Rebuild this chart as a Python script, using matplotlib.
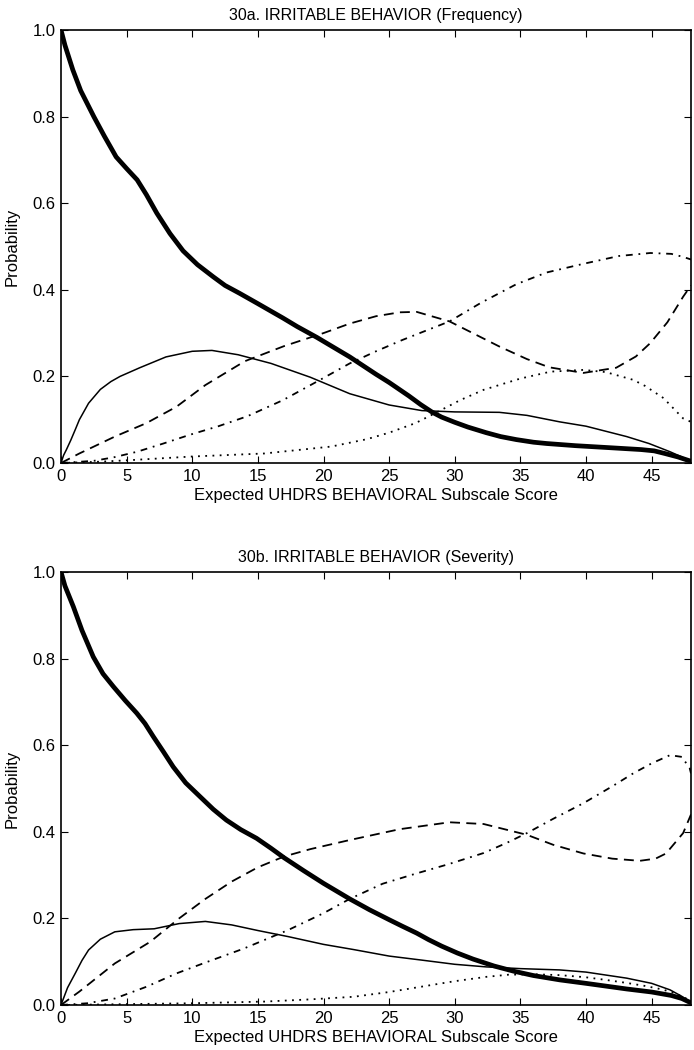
import matplotlib
matplotlib.use("Agg")
import matplotlib.pyplot as plt

plt.rcParams['font.family'] = ['Liberation Sans', 'DejaVu Sans']

# ---------------- 30a. Frequency ----------------
freq_thick_x = [0, 0.3, 0.9, 1.5, 2.5, 3.3, 4.2, 5.0, 5.8, 6.5, 7.3, 8.3, 9.3, 10.4, 11.6, 12.5,
                13.6, 15, 16.9, 18, 19.5, 20.5, 22, 23, 24, 25, 26.5, 27.4, 28.3, 29, 30, 31,
                32.4, 33.5, 34.7, 36, 37, 39.2, 42, 44.2, 45.2, 46, 47, 48]
freq_thick_y = [1.0, 0.965, 0.908, 0.86, 0.80, 0.755, 0.707, 0.68, 0.654, 0.62, 0.577, 0.53, 0.49,
                0.458, 0.43, 0.41, 0.392, 0.368, 0.335, 0.315, 0.29, 0.272, 0.245, 0.225, 0.205,
                0.186, 0.155, 0.135, 0.117, 0.106, 0.094, 0.083, 0.07, 0.061, 0.054, 0.048, 0.045,
                0.04, 0.035, 0.031, 0.028, 0.022, 0.014, 0.004]

freq_thin_x = [0, 0.2, 0.4, 0.75, 1.1, 1.4, 2.1, 3, 3.8, 4.5, 6, 8, 10, 11.5, 13.5, 16, 19, 22,
               25, 27.5, 30, 33.4, 35.5, 38, 40, 43.1, 44.8, 46.4, 47.3, 48]
freq_thin_y = [0, 0.018, 0.03, 0.053, 0.078, 0.1, 0.138, 0.17, 0.188, 0.2, 0.22, 0.245, 0.258,
               0.26, 0.25, 0.23, 0.198, 0.16, 0.134, 0.121, 0.118, 0.117, 0.11, 0.095, 0.085,
               0.061, 0.045, 0.026, 0.014, 0.003]

freq_dash_x = [0, 1.4, 4.1, 6.5, 8.8, 11, 14, 17, 20, 22, 24, 25.8, 27.1, 29.6, 31.5, 33.4,
               35.5, 37.2, 39.8, 42.3, 43.8, 44.9, 46.2, 47.4, 48]
freq_dash_y = [0, 0.022, 0.061, 0.092, 0.13, 0.18, 0.235, 0.27, 0.3, 0.322, 0.339, 0.348, 0.349,
               0.327, 0.298, 0.269, 0.24, 0.221, 0.208, 0.22, 0.246, 0.277, 0.325, 0.384, 0.41]

freq_dashdot_x = [0, 2.5, 4, 5.8, 7.8, 9.8, 12, 14.2, 16.9, 19.5, 22, 24, 26, 28, 29.6, 32,
                  34.7, 37, 39.8, 42.5, 44.9, 46.5, 47.4, 48]
freq_dashdot_y = [0, 0.005, 0.013, 0.026, 0.045, 0.065, 0.085, 0.108, 0.145, 0.188, 0.23, 0.258,
                  0.284, 0.308, 0.327, 0.37, 0.413, 0.44, 0.46, 0.478, 0.485, 0.483, 0.476, 0.47]

freq_dot_x = [0, 3, 5.5, 10, 15.5, 20.6, 23.3, 25, 27, 28.5, 30.4, 32.2, 35, 37.3, 39.8, 41.5,
              43.6, 44.5, 45.9, 47.4, 48]
freq_dot_y = [0, 0.003, 0.007, 0.015, 0.022, 0.038, 0.055, 0.07, 0.092, 0.115, 0.145, 0.169,
              0.195, 0.211, 0.215, 0.21, 0.192, 0.178, 0.15, 0.103, 0.095]

# ---------------- 30b. Severity ----------------
sev_thick_x = [0, 0.3, 0.94, 1.6, 2.46, 3.2, 4.0, 4.9, 5.77, 6.4, 7.03, 7.8, 8.55, 9.5, 10.6,
               11.6, 12.6, 13.7, 14.9, 16, 17, 18.5, 20, 21, 22, 23.5, 25, 26, 27.1, 28, 29,
               30.2, 31.4, 33, 34.5, 36, 38, 40, 43.1, 45, 46.5, 47.3, 48]
sev_thick_y = [1.0, 0.968, 0.92, 0.865, 0.804, 0.765, 0.735, 0.703, 0.674, 0.65, 0.62, 0.585,
               0.55, 0.513, 0.481, 0.452, 0.427, 0.405, 0.385, 0.362, 0.34, 0.31, 0.281, 0.263,
               0.245, 0.22, 0.197, 0.182, 0.166, 0.151, 0.136, 0.12, 0.106, 0.09, 0.078, 0.068,
               0.058, 0.05, 0.037, 0.03, 0.022, 0.015, 0.005]

sev_thin_x = [0, 0.5, 1.1, 1.6, 2.1, 3, 4.1, 5.5, 7.1, 9, 11, 13, 15, 17.3, 20, 22.3, 25, 27.4,
              30, 32.4, 35, 38, 40, 43.1, 45, 46.4, 47.3, 48]
sev_thin_y = [0, 0.04, 0.074, 0.103, 0.127, 0.152, 0.169, 0.174, 0.176, 0.188, 0.193, 0.185,
              0.172, 0.158, 0.14, 0.128, 0.113, 0.104, 0.094, 0.088, 0.084, 0.081, 0.076, 0.062,
              0.05, 0.035, 0.02, 0.004]

sev_dash_x = [0, 1.4, 4.1, 6.8, 9, 11, 13, 15, 17, 19, 22, 25.8, 29.6, 32.2, 35.5, 37.5, 39.8,
              42, 44.1, 45.3, 46.1, 47.4, 48]
sev_dash_y = [0, 0.031, 0.096, 0.146, 0.2, 0.245, 0.285, 0.318, 0.343, 0.36, 0.381, 0.406, 0.422,
              0.418, 0.393, 0.37, 0.35, 0.338, 0.333, 0.338, 0.35, 0.397, 0.44]

sev_dashdot_x = [0, 2, 4.1, 6.5, 8.8, 11, 13.9, 17.3, 20, 22, 24.5, 27.1, 29.5, 32.2, 34, 35.5,
                 37.5, 39.8, 42, 43.6, 45, 46.4, 47.3, 47.9, 48]
sev_dashdot_y = [0, 0.004, 0.015, 0.042, 0.073, 0.098, 0.13, 0.173, 0.212, 0.245, 0.28, 0.304,
                 0.325, 0.351, 0.375, 0.397, 0.43, 0.466, 0.505, 0.535, 0.558, 0.577, 0.573, 0.547, 0.535]

sev_dot_x = [0, 5, 10, 15.6, 19, 22.3, 25, 27.4, 30, 32.4, 34.1, 36, 38, 40, 41.5, 43.1, 44.5,
             45.8, 46.8, 47.7, 48]
sev_dot_y = [0, 0.002, 0.004, 0.008, 0.013, 0.019, 0.03, 0.042, 0.055, 0.065, 0.07, 0.071, 0.069,
             0.064, 0.058, 0.051, 0.044, 0.036, 0.027, 0.014, 0.008]

titles = ["30a. IRRITABLE BEHAVIOR (Frequency)", "30b. IRRITABLE BEHAVIOR (Severity)"]
xlabel = "Expected UHDRS BEHAVIORAL Subscale Score"
ylabel = "Probability"
xticks = [0, 5, 10, 15, 20, 25, 30, 35, 40, 45]
yticks = [0.0, 0.2, 0.4, 0.6, 0.8, 1.0]

panels = [
    (freq_thick_x, freq_thick_y, freq_thin_x, freq_thin_y, freq_dash_x, freq_dash_y,
     freq_dashdot_x, freq_dashdot_y, freq_dot_x, freq_dot_y),
    (sev_thick_x, sev_thick_y, sev_thin_x, sev_thin_y, sev_dash_x, sev_dash_y,
     sev_dashdot_x, sev_dashdot_y, sev_dot_x, sev_dot_y),
]

fig = plt.figure(figsize=(6.94, 10.5), dpi=100)
left = 61 / 694
width = (691 - 61) / 694
ax_rects = [
    [left, 1 - 463 / 1050, width, 433 / 1050],
    [left, 1 - 1005 / 1050, width, 433 / 1050],
]

for rect, title, data in zip(ax_rects, titles, panels):
    ax = fig.add_axes(rect)
    tkx, tky, tnx, tny, dsx, dsy, ddx, ddy, dtx, dty = data
    ax.plot(tkx, tky, color='black', lw=3.4, solid_capstyle='butt', solid_joinstyle='round')
    ax.plot(tnx, tny, color='black', lw=1.1, solid_joinstyle='round')
    ax.plot(dsx, dsy, color='black', lw=1.3, linestyle=(0, (5.5, 3.5)), dash_joinstyle='round')
    ax.plot(ddx, ddy, color='black', lw=1.3, linestyle=(0, (3.8, 3.2, 1.0, 3.2)), dash_joinstyle='round')
    ax.plot(dtx, dty, color='black', lw=1.3, linestyle=(0, (1.0, 3.0)))
    ax.set_xlim(0, 48)
    ax.set_ylim(0, 1.0)
    ax.set_xticks(xticks)
    ax.set_yticks(yticks)
    ax.set_yticklabels([f"{v:.1f}" for v in yticks])
    ax.tick_params(direction='in', top=True, right=True, length=5, width=0.8,
                   labelsize=12, pad=4, colors='black')
    for s in ax.spines.values():
        s.set_linewidth(1.2)
    ax.set_title(title, fontsize=11.5, pad=7)
    ax.set_xlabel(xlabel, fontsize=12, labelpad=3)
    ax.set_ylabel(ylabel, fontsize=12, labelpad=9)

fig.savefig("out.png", dpi=100)
